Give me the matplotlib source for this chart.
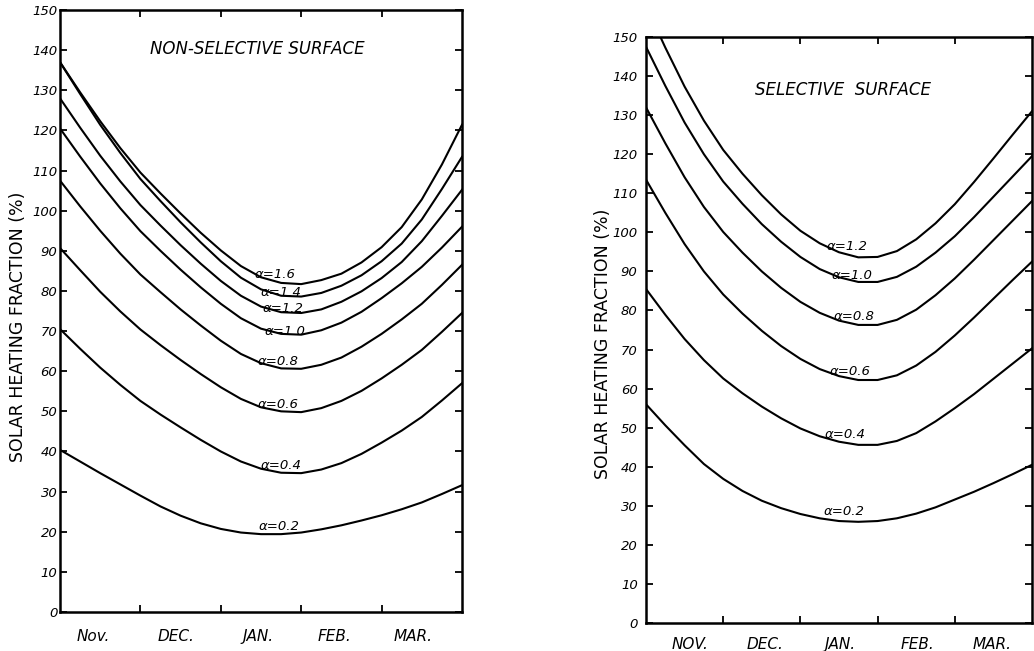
import matplotlib
matplotlib.use("Agg")
import matplotlib.pyplot as plt

# ---------------- data ----------------
x_pos = [0.0, 0.25, 0.5, 0.75, 1.0, 1.25, 1.5, 1.75, 2.0, 2.25, 2.5,
         2.75, 3.0, 3.25, 3.5, 3.75, 4.0, 4.25, 4.5, 4.75, 5.0]

months_left = ["Nov.", "DEC.", "JAN.", "FEB.", "MAR."]
months_right = ["NOV.", "DEC.", "JAN.", "FEB.", "MAR."]
y_ticks = [0, 10, 20, 30, 40, 50, 60, 70, 80, 90, 100, 110, 120, 130, 140, 150]

# Non-selective surface
ns_alphas = ["1.6", "1.4", "1.2", "1.0", "0.8", "0.6", "0.4", "0.2"]
ns_16 = [137.0, 129.5, 122.3, 115.6, 109.5, 104.3, 99.3, 94.5, 90.1, 86.2, 83.4,
         82.0, 81.7, 82.7, 84.3, 87.1, 90.9, 95.9, 102.8, 111.5, 121.4]
ns_14 = [137.0, 129.1, 121.4, 114.4, 107.9, 102.4, 97.1, 92.1, 87.4, 83.3, 80.4,
         78.8, 78.6, 79.5, 81.3, 83.9, 87.4, 91.8, 97.8, 105.4, 113.4]
ns_12 = [128.0, 120.7, 113.7, 107.3, 101.4, 96.3, 91.4, 86.8, 82.5, 78.8, 76.1,
         74.7, 74.5, 75.4, 77.3, 79.9, 83.2, 87.2, 92.4, 98.7, 105.2]
ns_10 = [120.5, 113.5, 106.8, 100.6, 94.9, 90.0, 85.3, 80.9, 76.8, 73.2, 70.6,
         69.3, 69.1, 70.2, 72.1, 74.8, 78.2, 81.9, 86.0, 90.8, 96.0]
ns_08 = [107.5, 101.1, 95.0, 89.3, 84.1, 79.7, 75.4, 71.4, 67.6, 64.3, 62.0,
         60.7, 60.6, 61.6, 63.4, 66.1, 69.3, 72.9, 76.8, 81.5, 86.5]
ns_06 = [90.7, 85.2, 79.8, 74.9, 70.4, 66.5, 62.8, 59.3, 56.0, 53.1, 51.0,
         50.0, 49.8, 50.8, 52.6, 55.1, 58.2, 61.6, 65.3, 69.8, 74.5]
ns_04 = [70.5, 65.6, 60.9, 56.6, 52.6, 49.2, 46.0, 42.9, 40.0, 37.5, 35.7,
         34.7, 34.6, 35.5, 37.1, 39.4, 42.2, 45.2, 48.6, 52.7, 57.0]
ns_02 = [40.4, 37.5, 34.6, 31.8, 29.0, 26.3, 24.0, 22.1, 20.7, 19.8, 19.4,
         19.4, 19.8, 20.6, 21.6, 22.8, 24.1, 25.6, 27.3, 29.4, 31.6]
ns_series = [ns_16, ns_14, ns_12, ns_10, ns_08, ns_06, ns_04, ns_02]
ns_label_x = [2.68, 2.75, 2.77, 2.80, 2.71, 2.71, 2.75, 2.72]
ns_label_y = [84.0, 79.7, 75.5, 69.8, 62.5, 51.6, 36.6, 21.2]

# Selective surface
s_alphas = ["1.2", "1.0", "0.8", "0.6", "0.4", "0.2"]
s_12 = [158.0, 147.3, 137.3, 128.6, 121.1, 115.0, 109.5, 104.6, 100.4, 97.2, 94.9,
        93.6, 93.7, 95.2, 98.2, 102.3, 107.2, 112.9, 118.9, 125.0, 131.0]
s_10 = [147.5, 137.5, 128.1, 120.0, 113.0, 107.3, 102.1, 97.6, 93.7, 90.6, 88.5,
        87.3, 87.3, 88.6, 91.2, 94.8, 99.0, 103.9, 109.1, 114.3, 119.5]
s_08 = [132.0, 122.8, 114.1, 106.5, 100.1, 94.8, 90.0, 85.8, 82.2, 79.4, 77.4,
        76.3, 76.3, 77.6, 80.2, 83.9, 88.2, 93.0, 98.0, 103.0, 108.0]
s_06 = [113.5, 105.0, 97.0, 90.0, 84.1, 79.2, 74.8, 70.9, 67.6, 65.0, 63.2,
        62.2, 62.2, 63.4, 65.9, 69.4, 73.6, 78.2, 83.0, 87.8, 92.5]
s_04 = [85.5, 78.9, 72.7, 67.3, 62.6, 58.8, 55.4, 52.4, 49.8, 47.8, 46.4,
        45.6, 45.6, 46.6, 48.6, 51.6, 55.0, 58.6, 62.5, 66.4, 70.3]
s_02 = [56.0, 50.6, 45.5, 40.7, 36.9, 33.8, 31.3, 29.4, 27.9, 26.8, 26.1,
        25.9, 26.1, 26.8, 28.0, 29.6, 31.6, 33.6, 35.8, 38.1, 40.5]
s_series = [s_12, s_10, s_08, s_06, s_04, s_02]
s_label_x = [2.61, 2.67, 2.69, 2.64, 2.58, 2.56]
s_label_y = [96.4, 89.0, 78.5, 64.4, 48.2, 28.5]

# ---------------- figure ----------------
plt.rcParams['font.family'] = ['DejaVu Sans']
fig = plt.figure(figsize=(10.34, 6.51), dpi=100)
fig.patch.set_facecolor('white')

ax1 = fig.add_axes([60 / 1034, 1 - 612 / 651, 402 / 1034, 602 / 651])
ax2 = fig.add_axes([646 / 1034, 1 - 623 / 651, 386 / 1034, 586 / 651])


def style_axes(ax, months, month_x, ytick_pad, month_pad, ylabel_xy):
    ax.set_xlim(0, 5)
    ax.set_ylim(0, 150)
    for sp in ax.spines.values():
        sp.set_linewidth(1.8)
        sp.set_color('black')
    ax.set_yticks(y_ticks)
    ax.set_yticklabels([str(v) for v in y_ticks], fontsize=9.5, style='italic')
    ax.tick_params(axis='y', which='major', left=True, right=True, direction='in',
                   length=5, width=1.3, pad=ytick_pad)
    ax.set_xticks([1, 2, 3, 4])
    ax.set_xticklabels([])
    ax.tick_params(axis='x', which='major', bottom=True, top=True, direction='in',
                   length=5, width=1.3)
    ax.set_xticks(month_x, minor=True)
    ax.set_xticklabels(months, minor=True, fontsize=11, style='italic')
    ax.tick_params(axis='x', which='minor', length=0, pad=month_pad)
    ax.set_ylabel("SOLAR HEATING FRACTION (%)", fontsize=12.5)
    ax.yaxis.set_label_coords(*ylabel_xy)


style_axes(ax1, months_left, [0.42, 1.44, 2.46, 3.41, 4.39], 2, 12, (-0.082, 0.474))
style_axes(ax2, months_right, [0.57, 1.54, 2.51, 3.52, 4.48], 6, 10, (-0.088, 0.476))

for ys in ns_series:
    ax1.plot(x_pos, ys, color='black', linewidth=1.5)
for a, lx, ly in zip(ns_alphas, ns_label_x, ns_label_y):
    ax1.text(lx, ly, "α=" + a, ha='center', va='center', fontsize=9.5,
             style='italic')
ax1.text(2.45, 140.3, "NON-SELECTIVE SURFACE", ha='center', va='center',
         fontsize=12, style='italic')

for ys in s_series:
    ax2.plot(x_pos, ys, color='black', linewidth=1.5)
for a, lx, ly in zip(s_alphas, s_label_x, s_label_y):
    ax2.text(lx, ly, "α=" + a, ha='center', va='center', fontsize=9.5,
             style='italic')
ax2.text(2.55, 136.4, "SELECTIVE  SURFACE", ha='center', va='center',
         fontsize=12, style='italic')

fig.savefig("out.png", dpi=100, facecolor='white')
